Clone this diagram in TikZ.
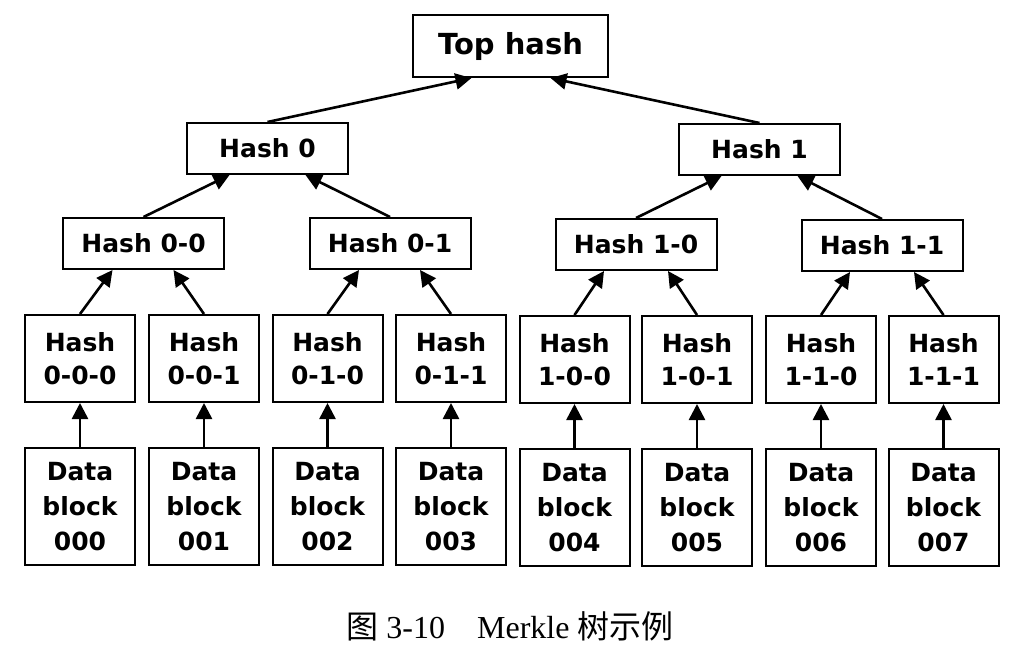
\documentclass[tikz,border=0pt]{standalone}
\usepackage{fontspec}
\setmainfont{Liberation Serif}
\newfontfamily\boxfont{DejaVu Sans}
\newfontfamily\cjk{Noto Sans CJK SC}
\usetikzlibrary{arrows.meta}

\begin{document}
\begin{tikzpicture}[x=0.5pt,y=-0.5pt,
	hbox/.style={draw, line width=1pt, inner sep=0pt, align=center,
		font=\boxfont\bfseries\fontsize{12.5}{16.5}\selectfont},
	midbox/.style={hbox, minimum width=80.5pt, minimum height=25.5pt},
	leafbox/.style={hbox, minimum width=55pt, minimum height=43.5pt},
	databox/.style={hbox, minimum width=55pt, minimum height=58.5pt,
		font=\boxfont\bfseries\fontsize{12.5}{17.5}\selectfont},
	up/.style={-{Triangle[length=8pt,width=8pt]}, line width=1.3pt}]
	
	\useasboundingbox (0,0) rectangle (1022,654);
	
	% Root
	\node [hbox,
	minimum width=97.5pt,
	minimum height=31pt,
	font=\boxfont\bfseries\fontsize{14.5}{17}\selectfont] (top) at (510.5,46) {Top hash};
	
	% Level 1
	\node[midbox] (h0) at (267.5,148.5) {Hash 0};
	\node[midbox] (h1) at (759.5,149.5) {Hash 1};
	
	% Level 2
	\node[midbox] (h00) at (143.5,243.5) {Hash 0-0};
	\node[midbox] (h01) at (390,243.5) {Hash 0-1};
	\node[midbox] (h10) at (636,244.5) {Hash 1-0};
	\node[midbox] (h11) at (882,245.5) {Hash 1-1};
	
	% Level 3
	\node[leafbox] (h000) at (80,358.5) {Hash\\0-0-0};
	\node[leafbox] (h001) at (204,358.5) {Hash\\0-0-1};
	\node[leafbox] (h010) at (327.5,358.5) {Hash\\0-1-0};
	\node[leafbox] (h011) at (451,358.5) {Hash\\0-1-1};
	\node[leafbox] (h100) at (574.5,359.5) {Hash\\1-0-0};
	\node[leafbox] (h101) at (697,359.5) {Hash\\1-0-1};
	\node[leafbox] (h110) at (821,359.5) {Hash\\1-1-0};
	\node[leafbox] (h111) at (943.5,359.5) {Hash\\1-1-1};
	
	% Data blocks
	\node[databox] (d0) at (80,506.5) {Data\\block\\000};
	\node[databox] (d1) at (204,506.5) {Data\\block\\001};
	\node[databox] (d2) at (327.5,506.5) {Data\\block\\002};
	\node[databox] (d3) at (451,506.5) {Data\\block\\003};
	\node[databox] (d4) at (574.5,507.5) {Data\\block\\004};
	\node[databox] (d5) at (697,507.5) {Data\\block\\005};
	\node[databox] (d6) at (821,507.5) {Data\\block\\006};
	\node[databox] (d7) at (943.5,507.5) {Data\\block\\007};
	
	% Edges
	\draw[up] (h0.north) -- ([xshift=-19.5pt]top.south);
	\draw[up] (h1.north) -- ([xshift=20pt]top.south);
	\draw[up] (h00.north) -- ([xshift=-19pt]h0.south);
	\draw[up] (h01.north) -- ([xshift=19pt]h0.south);
	\draw[up] (h10.north) -- ([xshift=-19pt]h1.south);
	\draw[up] (h11.north) -- ([xshift=19pt]h1.south);
	
	\draw[up] (h000.north) -- ([xshift=-15.5pt]h00.south);
	\draw[up] (h001.north) -- ([xshift=15pt]h00.south);
	\draw[up] (h010.north) -- ([xshift=-15.5pt]h01.south);
	\draw[up] (h011.north) -- ([xshift=15pt]h01.south);
	\draw[up] (h100.north) -- ([xshift=-16pt]h10.south);
	\draw[up] (h101.north) -- ([xshift=16pt]h10.south);
	\draw[up] (h110.north) -- ([xshift=-16pt]h11.south);
	\draw[up] (h111.north) -- ([xshift=16pt]h11.south);
	
	\draw[up] (d0.north) -- (h000.south);
	\draw[up] (d1.north) -- (h001.south);
	\draw[up] (d2.north) -- (h010.south);
	\draw[up] (d3.north) -- (h011.south);
	\draw[up] (d4.north) -- (h100.south);
	\draw[up] (d5.north) -- (h101.south);
	\draw[up] (d6.north) -- (h110.south);
	\draw[up] (d7.north) -- (h111.south);
	
	% Caption
	\node[font=\fontsize{16}{19}\selectfont] (cap) at (510,626) {{\cjk 图}~3-10\hspace{1em}Merkle~{\cjk 树示例}};
	
\end{tikzpicture}
\end{document}
